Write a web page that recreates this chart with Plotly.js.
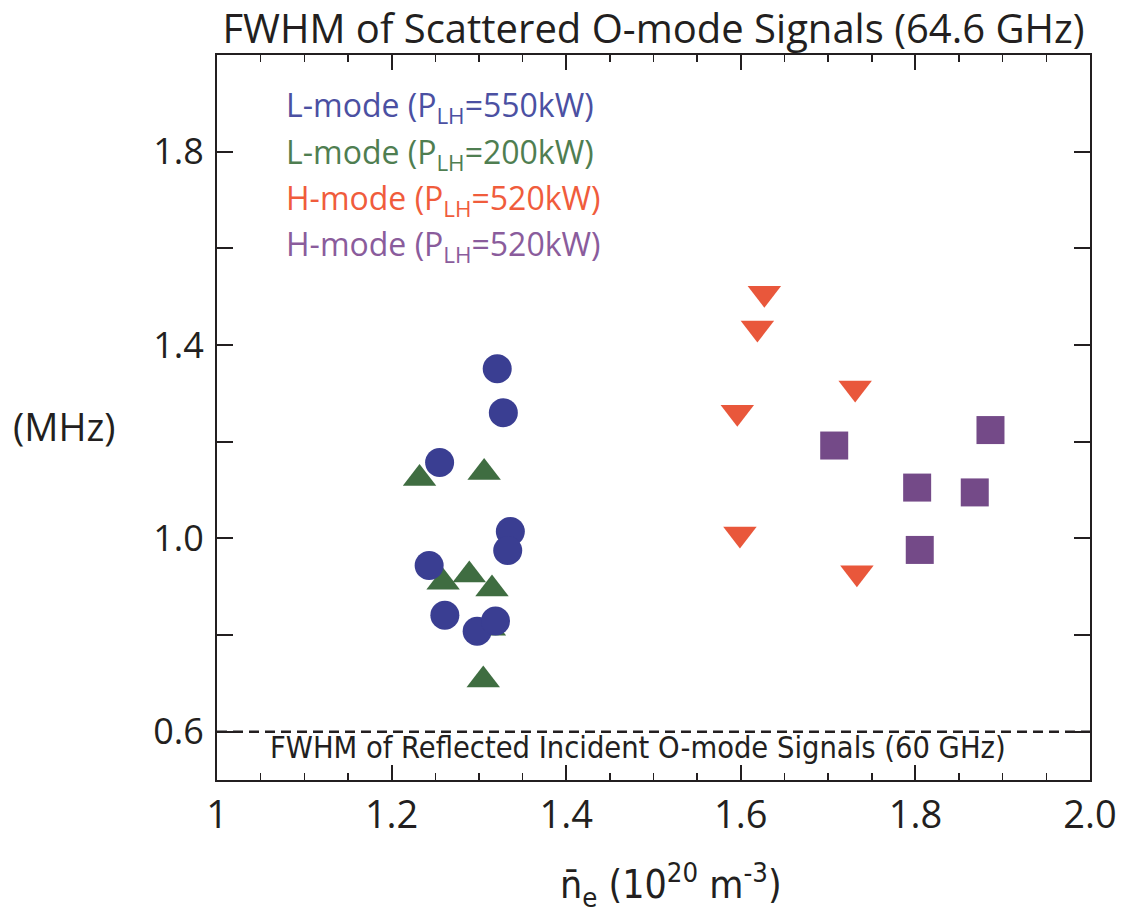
<!DOCTYPE html>
<html>
<head>
<meta charset="utf-8">
<script src="https://cdn.plot.ly/plotly-3.0.1.min.js"></script>
<style>html,body{margin:0;padding:0;background:#fff;}#chart{width:1122px;height:917px;}</style>
</head>
<body>
<div id="chart"></div>
<script>
// ---- data ----
const seriesNames = [
  'L-mode (P<sub>LH</sub>=550kW)',
  'L-mode (P<sub>LH</sub>=200kW)',
  'H-mode (P<sub>LH</sub>=520kW)',
  'H-mode (P<sub>LH</sub>=520kW)'
];
const ne_L550 = [1.321, 1.328, 1.255, 1.336, 1.333, 1.243, 1.261, 1.298, 1.319];
const fwhm_L550 = [1.351, 1.260, 1.157, 1.014, 0.975, 0.944, 0.841, 0.808, 0.829];
const ne_L200 = [1.232, 1.306, 1.259, 1.289, 1.315, 1.312, 1.305];
const fwhm_L200 = [1.124, 1.136, 0.909, 0.924, 0.895, 0.814, 0.707];
const ne_H520a = [1.627, 1.619, 1.731, 1.596, 1.599, 1.733];
const fwhm_H520a = [1.507, 1.435, 1.311, 1.261, 1.009, 0.929];
const ne_H520b = [1.707, 1.886, 1.802, 1.868, 1.805];
const fwhm_H520b = [1.192, 1.224, 1.105, 1.095, 0.976];
const reflectedFWHM = 0.6;
const xTickVals = [1.0, 1.2, 1.4, 1.6, 1.8, 2.0];
const xTickText = ['1', '1.2', '1.4', '1.6', '1.8', '2.0'];
const yTickVals = [0.6, 1.0, 1.4, 1.8];
const yTickText = ['0.6', '1.0', '1.4', '1.8'];
const titleText = 'FWHM of Scattered O-mode Signals (64.6 GHz)';
const refLabel = 'FWHM of Reflected Incident O-mode Signals (60 GHz)';
const xTitle = 'n\u0304<sub>e</sub> (10<sup>20</sup> m<sup>-3</sup>)';
const yTitle = '(MHz)';

// ---- styles ----
const markerColors = ['#3a3e92', '#3f6d41', '#e9573b', '#744a88'];
const textColors = ['#4b50a2', '#4f7e51', '#f05c3c', '#8a5c9c'];
const FONT = 'Open Sans, Noto Sans, sans-serif';
const NARROW = 'Liberation Sans Narrow, DejaVu Sans Condensed, Open Sans, sans-serif';
const AX = '#231f20';

const traces = [
  {x: ne_L200, y: fwhm_L200, mode: 'markers', type: 'scatter', name: seriesNames[1],
   marker: {symbol: 'triangle-up', size: 29, color: markerColors[1], line: {width: 0}}},
  {x: ne_L550, y: fwhm_L550, mode: 'markers', type: 'scatter', name: seriesNames[0],
   marker: {symbol: 'circle', size: 29, color: markerColors[0], line: {width: 0}}},
  {x: ne_H520a, y: fwhm_H520a, mode: 'markers', type: 'scatter', name: seriesNames[2],
   marker: {symbol: 'triangle-down', size: 29, color: markerColors[2], line: {width: 0}}},
  {x: ne_H520b, y: fwhm_H520b, mode: 'markers', type: 'scatter', name: seriesNames[3],
   marker: {symbol: 'square', size: 28, color: markerColors[3], line: {width: 0}}}
];

const legendY = [0.928, 0.864, 0.800, 0.736];
const annotations = seriesNames.map((t, i) => ({
  text: t, xref: 'paper', yref: 'paper', x: 0.077, y: legendY[i],
  xanchor: 'left', yanchor: 'middle', showarrow: false,
  font: {family: FONT, size: 32, color: textColors[i]}
}));
annotations.push({
  text: refLabel, xref: 'paper', yref: 'paper', x: 0.058, y: 0.045,
  xanchor: 'left', yanchor: 'middle', showarrow: false,
  font: {family: NARROW, size: 30.5, color: '#231f20'}
});
annotations.push({
  text: yTitle, xref: 'paper', yref: 'paper', x: -0.236, y: 0.488,
  xanchor: 'left', yanchor: 'middle', showarrow: false,
  font: {family: FONT, size: 38, color: '#231f20'}
});
annotations.push({
  text: xTitle, xref: 'paper', yref: 'paper', x: 0.52, y: -0.145,
  xanchor: 'center', yanchor: 'middle', showarrow: false,
  font: {family: NARROW, size: 39, color: '#231f20'}
});

const layout = {
  width: 1122, height: 917,
  margin: {l: 217, r: 32, t: 55, b: 137},
  paper_bgcolor: '#fff', plot_bgcolor: '#fff',
  showlegend: false,
  title: {text: titleText, x: 0.5, xref: 'paper', xanchor: 'center', y: 0.968, yanchor: 'middle',
          font: {family: FONT, size: 40, color: '#231f20'}},
  xaxis: {
    range: [1.0, 2.0], showgrid: false, zeroline: false,
    showline: true, linecolor: AX, linewidth: 2, mirror: 'ticks',
    ticks: 'inside', ticklen: 15, tickwidth: 2, tickcolor: AX,
    tickvals: xTickVals, ticktext: xTickText,
    minor: {ticks: 'inside', ticklen: 7, tickwidth: 1.5, tickcolor: AX, dtick: 0.05, showgrid: false},
    tickfont: {family: FONT, size: 38, color: '#231f20'},
    ticklabelstandoff: 0
  },
  yaxis: {
    range: [0.5, 2.0], showgrid: false, zeroline: false,
    showline: true, linecolor: AX, linewidth: 2, mirror: 'ticks',
    ticks: 'inside', ticklen: 16, tickwidth: 2, tickcolor: AX,
    tickvals: yTickVals, ticktext: yTickText,
    minor: {ticks: 'inside', ticklen: 16, tickwidth: 2, tickcolor: AX, tick0: 0.6, dtick: 0.2, showgrid: false},
    tickfont: {family: FONT, size: 36, color: '#231f20'},
    ticklabelstandoff: 4
  },
  shapes: [{
    type: 'line', xref: 'paper', yref: 'y', x0: 0, x1: 1, y0: reflectedFWHM, y1: reflectedFWHM,
    line: {color: AX, width: 2.5, dash: '10px,6px'}
  }],
  annotations: annotations
};

Plotly.newPlot('chart', traces, layout, {displayModeBar: false, staticPlot: true});
</script>
</body>
</html>
